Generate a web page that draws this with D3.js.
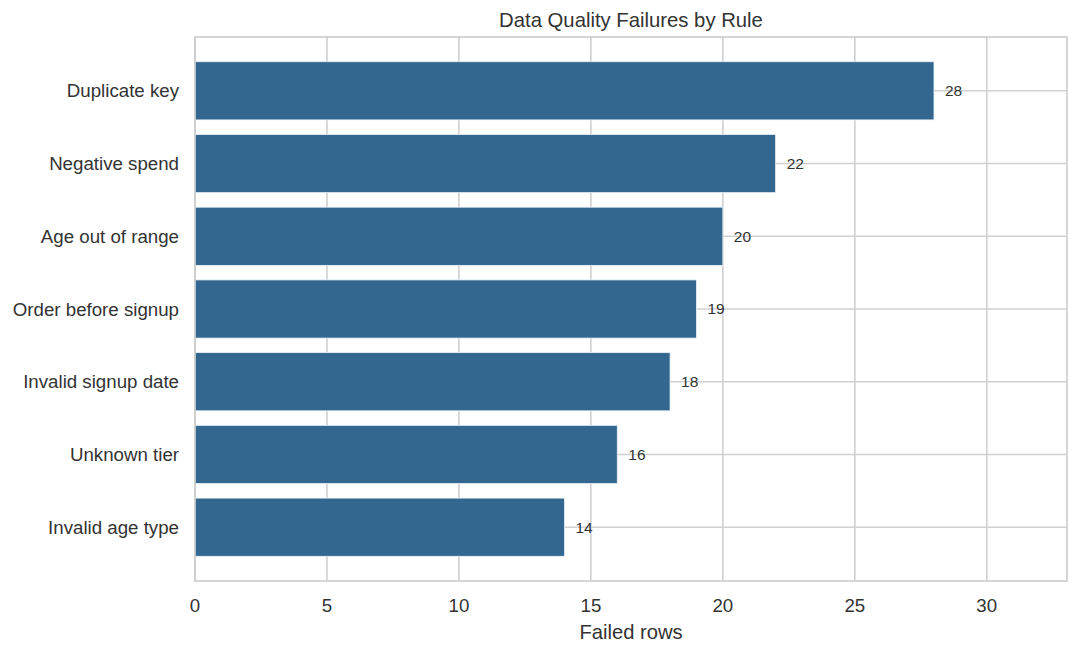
<!DOCTYPE html>
<html>
<head>
<meta charset="utf-8">
<script src="https://cdn.jsdelivr.net/npm/d3@7"></script>
<style>
  body { margin: 0; background: #fff; }
  svg { font-family: "Liberation Sans", Arial, sans-serif; }
</style>
</head>
<body>
<div id="chart"></div>
<script>
// rules, top to bottom
const rules = ['Duplicate key', 'Negative spend', 'Age out of range', 'Order before signup',
  'Invalid signup date', 'Unknown tier', 'Invalid age type']
const failedRows = [28, 22, 20, 19, 18, 16, 14]
const xTicks = [0, 5, 10, 15, 20, 25, 30]

const width = 1080, height = 654
const plotLeft = 195, plotRight = 1067, plotTop = 37, plotBottom = 581

const svg = d3.select('#chart')
  .append('svg')
  .attr('width', width)
  .attr('height', height)

const xScale = d3.scaleLinear()
  .domain([0, 33.04])
  .range([plotLeft, plotRight])

// matplotlib style y limits: bars at 0..n-1, height 0.8, 5% margin
const n = rules.length
const span = (n - 1) + 0.8
const yScale = d3.scaleLinear()
  .domain([-0.4 - span * 0.05, n - 1 + 0.4 + span * 0.05])
  .range([plotTop, plotBottom])
const unit = yScale(1) - yScale(0)

// grid
svg.append('g')
  .selectAll('line')
  .data(xTicks)
  .join('line')
  .attr('x1', d => xScale(d))
  .attr('x2', d => xScale(d))
  .attr('y1', plotTop)
  .attr('y2', plotBottom)
  .attr('stroke', '#d0d0d0')
  .attr('stroke-width', 1.6)

svg.append('g')
  .selectAll('line')
  .data(rules)
  .join('line')
  .attr('x1', plotLeft)
  .attr('x2', plotRight)
  .attr('y1', (d, i) => yScale(i))
  .attr('y2', (d, i) => yScale(i))
  .attr('stroke', '#d0d0d0')
  .attr('stroke-width', 1.6)

// bars
svg.append('g')
  .selectAll('rect')
  .data(failedRows)
  .join('rect')
  .attr('x', xScale(0))
  .attr('y', (d, i) => yScale(i) - unit * 0.4)
  .attr('width', d => xScale(d) - xScale(0))
  .attr('height', unit * 0.8)
  .style('fill', '#33678f')
  .style('stroke', '#eaf2fa')
  .style('stroke-width', 0.8)

// value labels
svg.append('g')
  .selectAll('text')
  .data(failedRows)
  .join('text')
  .attr('x', d => xScale(d) + 11)
  .attr('y', (d, i) => yScale(i))
  .attr('dy', '0.35em')
  .attr('font-size', 15.5)
  .attr('fill', '#333333')
  .text(d => d)

// frame
svg.append('rect')
  .attr('x', plotLeft)
  .attr('y', plotTop)
  .attr('width', plotRight - plotLeft)
  .attr('height', plotBottom - plotTop)
  .attr('fill', 'none')
  .attr('stroke', '#cccccc')
  .attr('stroke-width', 1.6)

// y tick labels
svg.append('g')
  .selectAll('text')
  .data(rules)
  .join('text')
  .attr('x', plotLeft - 16)
  .attr('y', (d, i) => yScale(i))
  .attr('dy', '0.35em')
  .attr('text-anchor', 'end')
  .attr('font-size', 18.7)
  .attr('fill', '#333333')
  .text(d => d)

// x tick labels
svg.append('g')
  .selectAll('text')
  .data(xTicks)
  .join('text')
  .attr('x', d => xScale(d))
  .attr('y', 612)
  .attr('text-anchor', 'middle')
  .attr('font-size', 18.7)
  .attr('fill', '#333333')
  .text(d => d)

svg.append('text')
  .attr('x', (plotLeft + plotRight) / 2)
  .attr('y', 639)
  .attr('text-anchor', 'middle')
  .attr('font-size', 20.2)
  .attr('fill', '#333333')
  .text('Failed rows')

svg.append('text')
  .attr('x', (plotLeft + plotRight) / 2)
  .attr('y', 27)
  .attr('text-anchor', 'middle')
  .attr('font-size', 20.3)
  .attr('fill', '#333333')
  .text('Data Quality Failures by Rule')
</script>
</body>
</html>
